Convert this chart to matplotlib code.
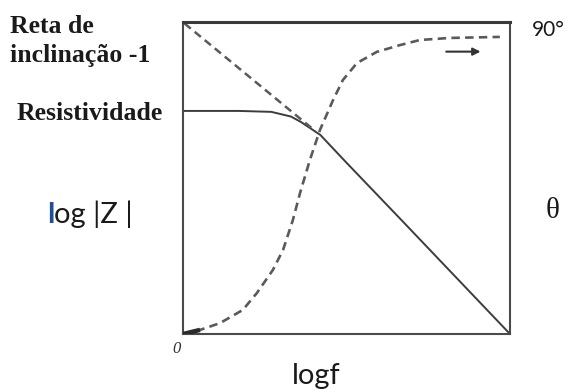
import matplotlib
matplotlib.use('Agg')
import matplotlib.pyplot as plt

# logf axis runs 0..10 across the box, log|Z| 0..10 bottom to top
logf_z = [0, 1.7, 2.7, 3.3, 3.6, 4.2, 5.0, 6.7, 8.4, 10]
logz = [7.15, 7.15, 7.12, 6.97, 6.8, 6.38, 5.49, 3.63, 1.76, 0]

# asymptote of slope -1 at low frequency side
slope_x = [0.05, 4.05]
slope_y = [9.95, 6.5]

# phase angle (degrees), right-hand scale
logf_ph = [0, 0.52, 1.13, 1.83, 2.26, 2.75, 3.06, 3.36, 3.58, 3.88, 4.19, 4.59,
           4.89, 5.32, 5.93, 6.64, 7.25, 8.17, 9.69]
theta = [0, 1.2, 3.2, 7.1, 12.1, 18.9, 24.8, 33.6, 41.6, 51.3, 60.2, 69.0,
         74.9, 79.9, 83.2, 85.2, 86.7, 87.3, 87.6]

W, H = 571, 391
fig = plt.figure(figsize=(W / 100, H / 100), dpi=100)
fig.patch.set_facecolor('white')

left, right, top, bottom = 183, 510, 22, 334
ax = fig.add_axes([left / W, 1 - bottom / H, (right - left) / W, (bottom - top) / H])
ax.set_xlim(0, 10)
ax.set_ylim(0, 10)
ax.set_xticks([])
ax.set_yticks([])
for side in ['left', 'right', 'bottom']:
    ax.spines[side].set_color('#4a4a4a')
    ax.spines[side].set_linewidth(1.5)
ax.spines['top'].set_color('#3a3a3a')
ax.spines['top'].set_linewidth(2.2)

line_col = '#3c3c3c'
dash_col = '#5a5a5a'

ax.plot(logf_z, logz, color=line_col, lw=1.4, solid_capstyle='round')
ax.plot(slope_x, slope_y, color=dash_col, lw=1.8, linestyle=(0, (3.2, 2.0)))

ph = ax.twinx()
ph.set_ylim(0, 92)
ph.plot(logf_ph, theta, color=dash_col, lw=1.9, linestyle=(0, (3.2, 2.0)))
ph.plot(logf_ph[:2], theta[:2], color='#2a2a2a', lw=3.2, solid_capstyle='butt')
ph.set_yticks([])
for s in ph.spines.values():
    s.set_visible(False)

# direction arrow under the phase plateau
ax.annotate('', xy=(9.1, 9.05), xytext=(8.05, 9.05),
            arrowprops=dict(arrowstyle='-|>', color='#333333', lw=1.5,
                            mutation_scale=11, shrinkA=0, shrinkB=0))

serif = 'Liberation Serif'
sans = 'Lato'
ink = '#1a1a1a'

fig.text(10 / W, 1 - 33 / H, 'Reta de', family=serif, weight='bold',
         fontsize=18.5, color=ink, va='baseline', ha='left')
fig.text(10 / W, 1 - 62 / H, 'inclinação -1', family=serif, weight='bold',
         fontsize=18.5, color=ink, va='baseline', ha='left')
fig.text(17 / W, 1 - 120 / H, 'Resistividade', family=serif, weight='bold',
         fontsize=18.5, color=ink, va='baseline', ha='left')

t_l = fig.text(47 / W, 1 - 228 / H, 'l', family=sans, weight='bold', fontsize=21,
               color='#1f4f96', va='bottom', ha='left')
ax.annotate('og |Z |', xy=(1, 0), xycoords=t_l, family=sans, fontsize=21,
            color=ink, va='bottom', ha='left')

fig.text(546 / W, 1 - 218 / H, 'θ', family=serif, fontsize=21, color=ink,
         va='baseline', ha='left')
fig.text(532 / W, 1 - 36 / H, '90°', family=sans, fontsize=15, color=ink,
         va='baseline', ha='left')
fig.text(172 / W, 1 - 353 / H, '0', family=serif, style='italic', fontsize=12,
         color='#333333', va='baseline', ha='left')
fig.text(316 / W, 1 - 384 / H, 'logf', family=sans, fontsize=21, color=ink,
         va='baseline', ha='center')

fig.savefig('out.png', dpi=100, facecolor='white')
